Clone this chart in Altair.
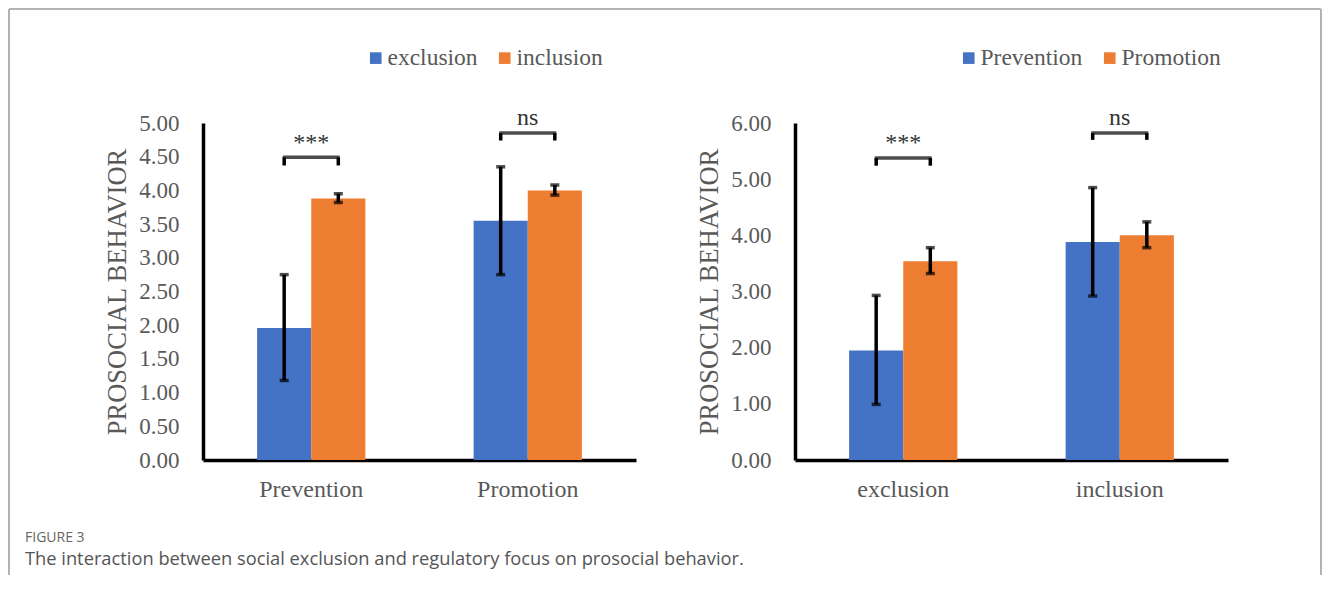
import altair as alt
import pandas as pd

SERIF = "Liberation Serif"
SANS = "Open Sans"
GRAY = "#595959"
BLUE = "#4472C4"
ORANGE = "#ED7D31"

# ---- left panel data (x = regulatory focus, colour = social condition)
left_group_order = ["Prevention", "Promotion"]
left_series_order = ["exclusion", "inclusion"]
left_groups = ["Prevention", "Prevention", "Promotion", "Promotion"]
left_series = ["exclusion", "inclusion", "exclusion", "inclusion"]
left_means = [1.96, 3.88, 3.55, 4.00]
left_err_lo = [1.18, 3.82, 2.75, 3.93]
left_err_hi = [2.75, 3.95, 4.35, 4.08]
left_sig_groups = ["Prevention", "Promotion"]
left_sig_labels = ["***", "ns"]
left_sig_text_y = [4.71, 5.08]
left_bracket_top = [4.49, 4.85]
left_bracket_leg = [4.37, 4.74]
left_ticks = [0.0, 0.5, 1.0, 1.5, 2.0, 2.5, 3.0, 3.5, 4.0, 4.5, 5.0]

# ---- right panel data (x = social condition, colour = regulatory focus)
right_group_order = ["exclusion", "inclusion"]
right_series_order = ["Prevention", "Promotion"]
right_groups = ["exclusion", "exclusion", "inclusion", "inclusion"]
right_series = ["Prevention", "Promotion", "Prevention", "Promotion"]
right_means = [1.95, 3.54, 3.88, 4.00]
right_err_lo = [0.99, 3.32, 2.92, 3.78]
right_err_hi = [2.93, 3.78, 4.85, 4.24]
right_sig_groups = ["exclusion", "inclusion"]
right_sig_labels = ["***", "ns"]
right_sig_text_y = [5.65, 6.09]
right_bracket_top = [5.375, 5.82]
right_bracket_leg = [5.24, 5.70]
right_ticks = [0.0, 1.0, 2.0, 3.0, 4.0, 5.0, 6.0]

W, H = 433, 337


def panel(group_order, series_order, groups, series, means, lo, hi,
          sig_groups, sig_labels, sig_y, br_top, br_leg, ymax, ticks,
          legend_x, border=False, title=None):
    bars_df = pd.DataFrame({"group": groups, "series": series,
                            "value": means, "lo": lo, "hi": hi})
    legs = []
    for g, t, l in zip(sig_groups, br_top, br_leg):
        for s in series_order:
            legs.append({"group": g, "series": s, "top": t, "leg": l})
    legs_df = pd.DataFrame(legs)
    sig_df = pd.DataFrame({"group": sig_groups, "label": sig_labels,
                           "ty": sig_y, "top": br_top})

    xscale = alt.Scale(domain=group_order, paddingInner=0.5, paddingOuter=0.25)
    xax = alt.Axis(title=None, labelAngle=0, ticks=False,
                   domainColor="black", domainWidth=3.5,
                   labelPadding=17, labelFont=SERIF,
                   labelFontSize=24, labelColor=GRAY)
    x = alt.X("group:N", sort=group_order, scale=xscale, axis=xax)
    xo = alt.XOffset("series:N", sort=series_order,
                     scale=alt.Scale(domain=series_order, paddingInner=0,
                                     paddingOuter=0))
    ys = alt.Scale(domain=[0, ymax], nice=False)
    yt = "PROSOCIAL BEHAVIOR"
    yax = alt.Axis(values=ticks, format=".2f", ticks=False, tickCount=len(ticks),
                   grid=False, domainColor="black",
                   domainWidth=3.5, labelFont=SERIF,
                   labelFontSize=23, labelColor=GRAY,
                   labelPadding=24, labelOverlap=False,
                   titleFont=SERIF, titleFontSize=26.5,
                   titleFontWeight="normal", titleColor=GRAY,
                   titlePadding=7)

    def Y(field):
        return alt.Y(field, scale=ys, title=yt, axis=yax)

    bars = alt.Chart(bars_df).mark_bar().encode(
        x=x, xOffset=xo, y=Y("value:Q"),
        color=alt.Color("series:N", sort=series_order,
                        scale=alt.Scale(domain=series_order,
                                        range=[BLUE, ORANGE]),
                        legend=alt.Legend(title=None, orient="none",
                                          direction="horizontal",
                                          legendX=legend_x, legendY=-77,
                                          symbolType="square",
                                          symbolSize=135,
                                          symbolStrokeWidth=0,
                                          labelFont=SERIF,
                                          labelFontSize=23.5,
                                          labelColor=GRAY, labelOffset=0,
                                          columnPadding=15, padding=0)),
    )
    err = alt.Chart(bars_df).mark_rule(color="black", strokeWidth=3.5).encode(
        x=x, xOffset=xo, y=Y("lo:Q"), y2="hi:Q")
    cap_lo = alt.Chart(bars_df).mark_tick(color="black", thickness=3.5,
                                          size=9).encode(
        x=x, xOffset=xo, y=Y("lo:Q"))
    cap_hi = alt.Chart(bars_df).mark_tick(color="black", thickness=3.5,
                                          size=9).encode(
        x=x, xOffset=xo, y=Y("hi:Q"))
    leg = alt.Chart(legs_df).mark_rule(color="black", strokeWidth=3.5).encode(
        x=x, xOffset=xo, y=Y("leg:Q"), y2="top:Q")
    top = alt.Chart(sig_df).mark_tick(color="black", thickness=3.5,
                                      size=57).encode(
        x=x, y=Y("top:Q"))
    txt = alt.Chart(sig_df).mark_text(font=SERIF, fontSize=24,
                                      color="#333333").encode(
        x=x, y=Y("ty:Q"), text="label:N")

    layers = [bars, err, cap_lo, cap_hi, leg, top, txt]
    if border:
        one = pd.DataFrame({"k": [0]})
        bc = "#b3b3b3"
        layers += [
            alt.Chart(one).mark_rule(color=bc, strokeWidth=2).encode(
                x=alt.value(-786), x2=alt.value(526), y=alt.value(-114)),
            alt.Chart(one).mark_rule(color=bc, strokeWidth=2).encode(
                x=alt.value(-786), y=alt.value(-114), y2=alt.value(452)),
            alt.Chart(one).mark_rule(color=bc, strokeWidth=2).encode(
                x=alt.value(526), y=alt.value(-114), y2=alt.value(452)),
        ]
    ch = alt.layer(*layers)
    props = dict(width=W, height=H)
    if title is not None:
        props["title"] = title
    return ch.properties(**props)


caption = alt.TitleParams(
    text="FIGURE 3",
    subtitle="The interaction between social exclusion and regulatory focus on prosocial behavior.",
    orient="bottom", anchor="start", frame="group", dx=-178, offset=30,
    font=SANS, fontSize=14, fontWeight="normal", color="#666666",
    subtitleFont=SANS, subtitleFontSize=18.3, subtitleColor="#555555",
    subtitlePadding=6,
)

left = panel(left_group_order, left_series_order, left_groups, left_series,
             left_means, left_err_lo, left_err_hi, left_sig_groups,
             left_sig_labels, left_sig_text_y, left_bracket_top,
             left_bracket_leg, 5, left_ticks, 161, title=caption)
right = panel(right_group_order, right_series_order, right_groups,
              right_series, right_means, right_err_lo, right_err_hi,
              right_sig_groups, right_sig_labels, right_sig_text_y,
              right_bracket_top, right_bracket_leg, 6, right_ticks, 162,
              border=True)

chart = alt.hconcat(left, right, spacing=159, bounds="flush").resolve_scale(
    x="independent", y="independent", color="independent",
    xOffset="independent").resolve_legend(color="independent").configure(
    padding=0, background="white").configure_view(stroke=None)

chart.save("out.html", embed_options={"renderer": "svg", "actions": False})
